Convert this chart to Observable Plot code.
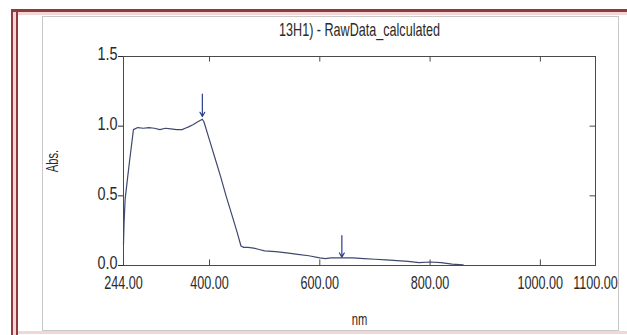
<!DOCTYPE html>
<html>
<head>
<meta charset="utf-8">
<script src="https://cdn.jsdelivr.net/npm/d3@7"></script>
<script src="https://cdn.jsdelivr.net/npm/@observablehq/plot@0.6"></script>
<style>
  html, body { margin: 0; padding: 0; background: #fff; }
  #wrap { position: relative; width: 627px; height: 335px; overflow: hidden; background: #fff; }
  .b { position: absolute; }
  #chart { position: absolute; left: 0; top: 0; }
  #chart svg { background: transparent; }
</style>
</head>
<body>
<div id="wrap">
  <div class="b" style="left:11px; top:9px; width:616px; height:3px; background:#8e3b3f;"></div>
  <div class="b" style="left:11px; top:12px; width:616px; height:3px; background:#f3d6d6;"></div>
  <div class="b" style="left:11px; top:9px; width:2px; height:326px; background:#8e3b3f;"></div>
  <div class="b" style="left:13px; top:12px; width:3px; height:323px; background:#f3d6d6;"></div>
  <div class="b" style="left:16px; top:12px; width:2px; height:323px; background:#8e3b3f;"></div>
  <div class="b" style="left:18px; top:331px; width:609px; height:3px; background:#f3d6d6;"></div>
  <div class="b" style="left:42px; top:16px; width:577px; height:315px; border:1px solid #c9c9c9; box-sizing:border-box;"></div>
  <div id="chart"></div>
</div>
<script>
// Spectrum values
const wavelength = [244, 245, 247, 250, 255, 262, 270, 280, 290, 300, 310, 320, 330, 340, 350, 356, 362, 370, 378, 387, 390, 400, 410, 420, 430, 440, 450, 457, 462, 470, 480, 490, 500, 520, 540, 560, 580, 600, 610, 620, 640, 660, 680, 700, 720, 740, 760, 780, 800, 820, 840, 860];
const absorbance = [0.15, 0.30, 0.48, 0.58, 0.75, 0.975, 0.99, 0.985, 0.99, 0.985, 0.975, 0.985, 0.98, 0.975, 0.975, 0.985, 0.995, 1.01, 1.03, 1.05, 1.03, 0.90, 0.77, 0.64, 0.50, 0.37, 0.24, 0.14, 0.13, 0.13, 0.125, 0.115, 0.105, 0.10, 0.09, 0.08, 0.07, 0.055, 0.05, 0.055, 0.055, 0.055, 0.05, 0.045, 0.04, 0.035, 0.03, 0.02, 0.025, 0.02, 0.01, 0.005];

// Peak pick markers
const peakNm = [387, 640];
const peakTop = [1.23, 0.215];
const peakTip = [1.07, 0.06];

// Axis ticks
const xTicks = [244, 400, 600, 800, 1000, 1100];
const xInnerTicks = [400, 600, 800, 1000];
const yTicks = [0.0, 0.5, 1.0, 1.5];

const titleText = "13H1) - RawData_calculated";
const xLabel = "nm";
const yLabel = "Abs.";

const curve = wavelength.map((w, i) => ({nm: w, abs: absorbance[i]}));
const peaks = peakNm.map((w, i) => ({nm: w, top: peakTop[i], tip: peakTip[i]}));

const font = "'Liberation Sans', Arial, sans-serif";

const chart = Plot.plot({
  width: 627,
  height: 335,
  marginTop: 56,
  marginLeft: 123,
  marginRight: 32,
  marginBottom: 70,
  style: {fontFamily: font, fontSize: "17px", color: "#2a2a2a", background: "transparent", overflow: "visible"},
  x: {domain: [244, 1100]},
  y: {domain: [0, 1.5]},
  marks: [
    Plot.frame({stroke: "#4a4a4a", strokeWidth: 1}),
    Plot.axisX({anchor: "bottom", ticks: xTicks, tickSize: 0, tickPadding: 11, tickFormat: d3.format(".2f"), label: null, fontSize: 18}),
    Plot.axisY({anchor: "left", ticks: yTicks, tickSize: 5, text: null, label: null}),
    Plot.axisY({anchor: "left", ticks: yTicks, tickSize: 0, tickPadding: 6, tickFormat: d3.format(".1f"), label: null, fontSize: 18, dy: -2}),
    Plot.ruleX(xInnerTicks, {y1: 0, y2: 0.04, stroke: "#4a4a4a"}),
    Plot.ruleX(xInnerTicks, {y1: 1.5, y2: 1.46, stroke: "#4a4a4a"}),
    Plot.ruleY([0.5, 1.0], {x1: 1100, x2: 1090, stroke: "#4a4a4a"}),
    Plot.line(curve, {x: "nm", y: "abs", stroke: "#3d4a6e", strokeWidth: 1.2}),
    Plot.arrow(peaks, {x1: "nm", y1: "top", x2: "nm", y2: "tip", stroke: "#2b3d8f", strokeWidth: 1.2, headLength: 6}),
    Plot.text([titleText], {frameAnchor: "top", lineAnchor: "middle", dy: -26, fontSize: 18, fill: "#2a2a2a"}),
    Plot.text([xLabel], {frameAnchor: "bottom", lineAnchor: "middle", dy: 54, fontSize: 16, fill: "#2a2a2a"}),
    Plot.text([yLabel], {frameAnchor: "left", lineAnchor: "middle", dx: -71, rotate: -90, textAnchor: "middle", fontSize: 16, fill: "#2a2a2a"})
  ]
});

// Condense all text horizontally around its own anchor (the original uses a narrow face)
d3.select(chart).selectAll("text").each(function() {
  const el = d3.select(this);
  const inY = this.closest("g[aria-label='y-axis tick label']") !== null;
  const s = inY ? 0.8 : 0.7;
  const x = parseFloat(el.attr("x")) || 0;
  const y = parseFloat(el.attr("y")) || 0;
  const t = el.attr("transform") || "";
  el.attr("transform", `${t} translate(${x},${y}) scale(${s},1) translate(${-x},${-y})`);
});

document.getElementById("chart").appendChild(chart);
</script>
</body>
</html>
